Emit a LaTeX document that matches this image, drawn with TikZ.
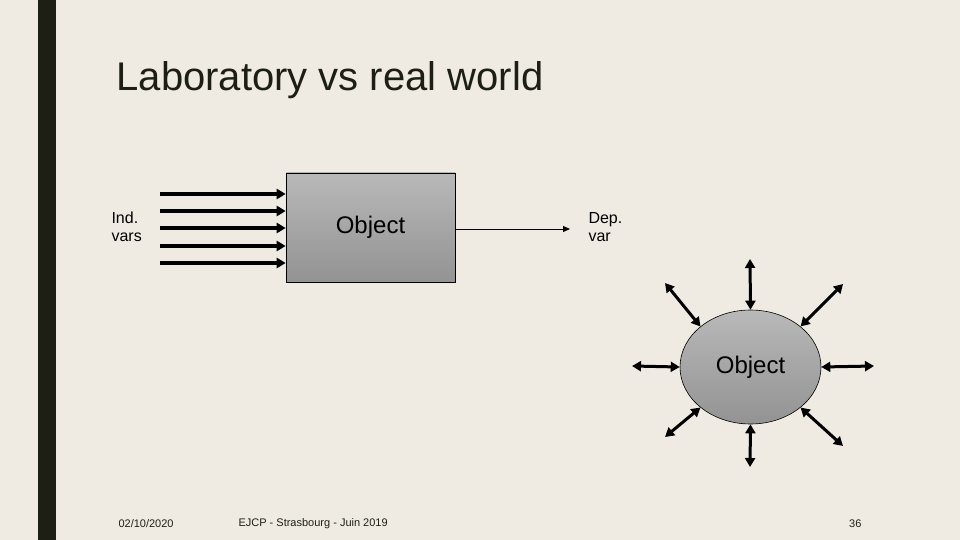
\documentclass[tikz,border=0pt]{standalone}
\usepackage{fontspec}
\setmainfont{Liberation Sans}
\usetikzlibrary{arrows.meta,shapes.geometric}
\definecolor{bg}{HTML}{EFEBE3}
\definecolor{bar}{HTML}{1E1F14}
\definecolor{txt}{HTML}{1E1F14}
\begin{document}
\begin{tikzpicture}[x=1pt,y=-1pt,
  thick arr/.style={line width=3.5pt,-{Triangle[length=9pt,width=10pt]}},
  dbl arr/.style={line width=3pt,{Triangle[length=9pt,width=10pt]}-{Triangle[length=9pt,width=10pt]}},
  lbl/.style={font=\fontsize{16}{18}\selectfont,align=left,anchor=west,text=black},
  foot/.style={font=\fontsize{11}{12}\selectfont,text=txt}]
\fill[bg] (0,0) rectangle (960,540);
\useasboundingbox (0,0) rectangle (960,540);
\fill[bar] (38,0) rectangle (56,540);
\node[anchor=west,text=txt,font=\fontsize{40}{44}\selectfont] (title) at (113,80) {Laboratory vs real world};
% box
\node[draw=black,line width=0.6pt,minimum width=169pt,minimum height=109pt,top color=gray!55,bottom color=gray!85,font=\fontsize{24}{26}\selectfont] (obj) at (370.5,227.5) {Object};
\node[lbl] (ind) at (108,227) {Ind.\\vars};
\foreach \i/\yy in {1/194,2/211,3/228,4/246,5/263}{
  \coordinate (s\i) at (160,\yy);
  \draw[thick arr] (s\i) -- (s\i -| obj.west);
}
\node[lbl] (dep) at (585,227) {Dep.\\var};
\draw[line width=1pt,-{Triangle[length=7pt,width=6pt]}] (obj.east |- 0,229) -- (570,229) coordinate (depend);
% ellipse
\node[ellipse,draw=black,line width=0.6pt,minimum width=141pt,minimum height=114pt,top color=gray!55,bottom color=gray!85,font=\fontsize{24}{26}\selectfont] (eo) at (750.5,367) {Object};
\foreach \n/\px/\py in {t/750/259, b/750/467, l/632/366, r/874/366, tl/665/283, tr/843/284, bl/665/437, br/843/446}{
  \coordinate (p\n) at (\px,\py);
}
\draw[dbl arr] (pt) -- (eo.north);
\draw[dbl arr] (pb) -- (eo.south);
\draw[dbl arr] (pl) -- (eo.west);
\draw[dbl arr] (pr) -- (eo.east);
\draw[dbl arr] (ptl) -- (eo.north west);
\draw[dbl arr] (ptr) -- (eo.north east);
\draw[dbl arr] (pbl) -- (eo.south west);
\draw[dbl arr] (pbr) -- (eo.south east);
% footer
\node[foot,anchor=west] (date) at (115,524) {02/10/2020};
\node[foot,anchor=west] (conf) at (235,524) {EJCP - Strasbourg - Juin 2019};
\node[foot,anchor=east] (num) at (865,524) {36};
\end{tikzpicture}
\end{document}
